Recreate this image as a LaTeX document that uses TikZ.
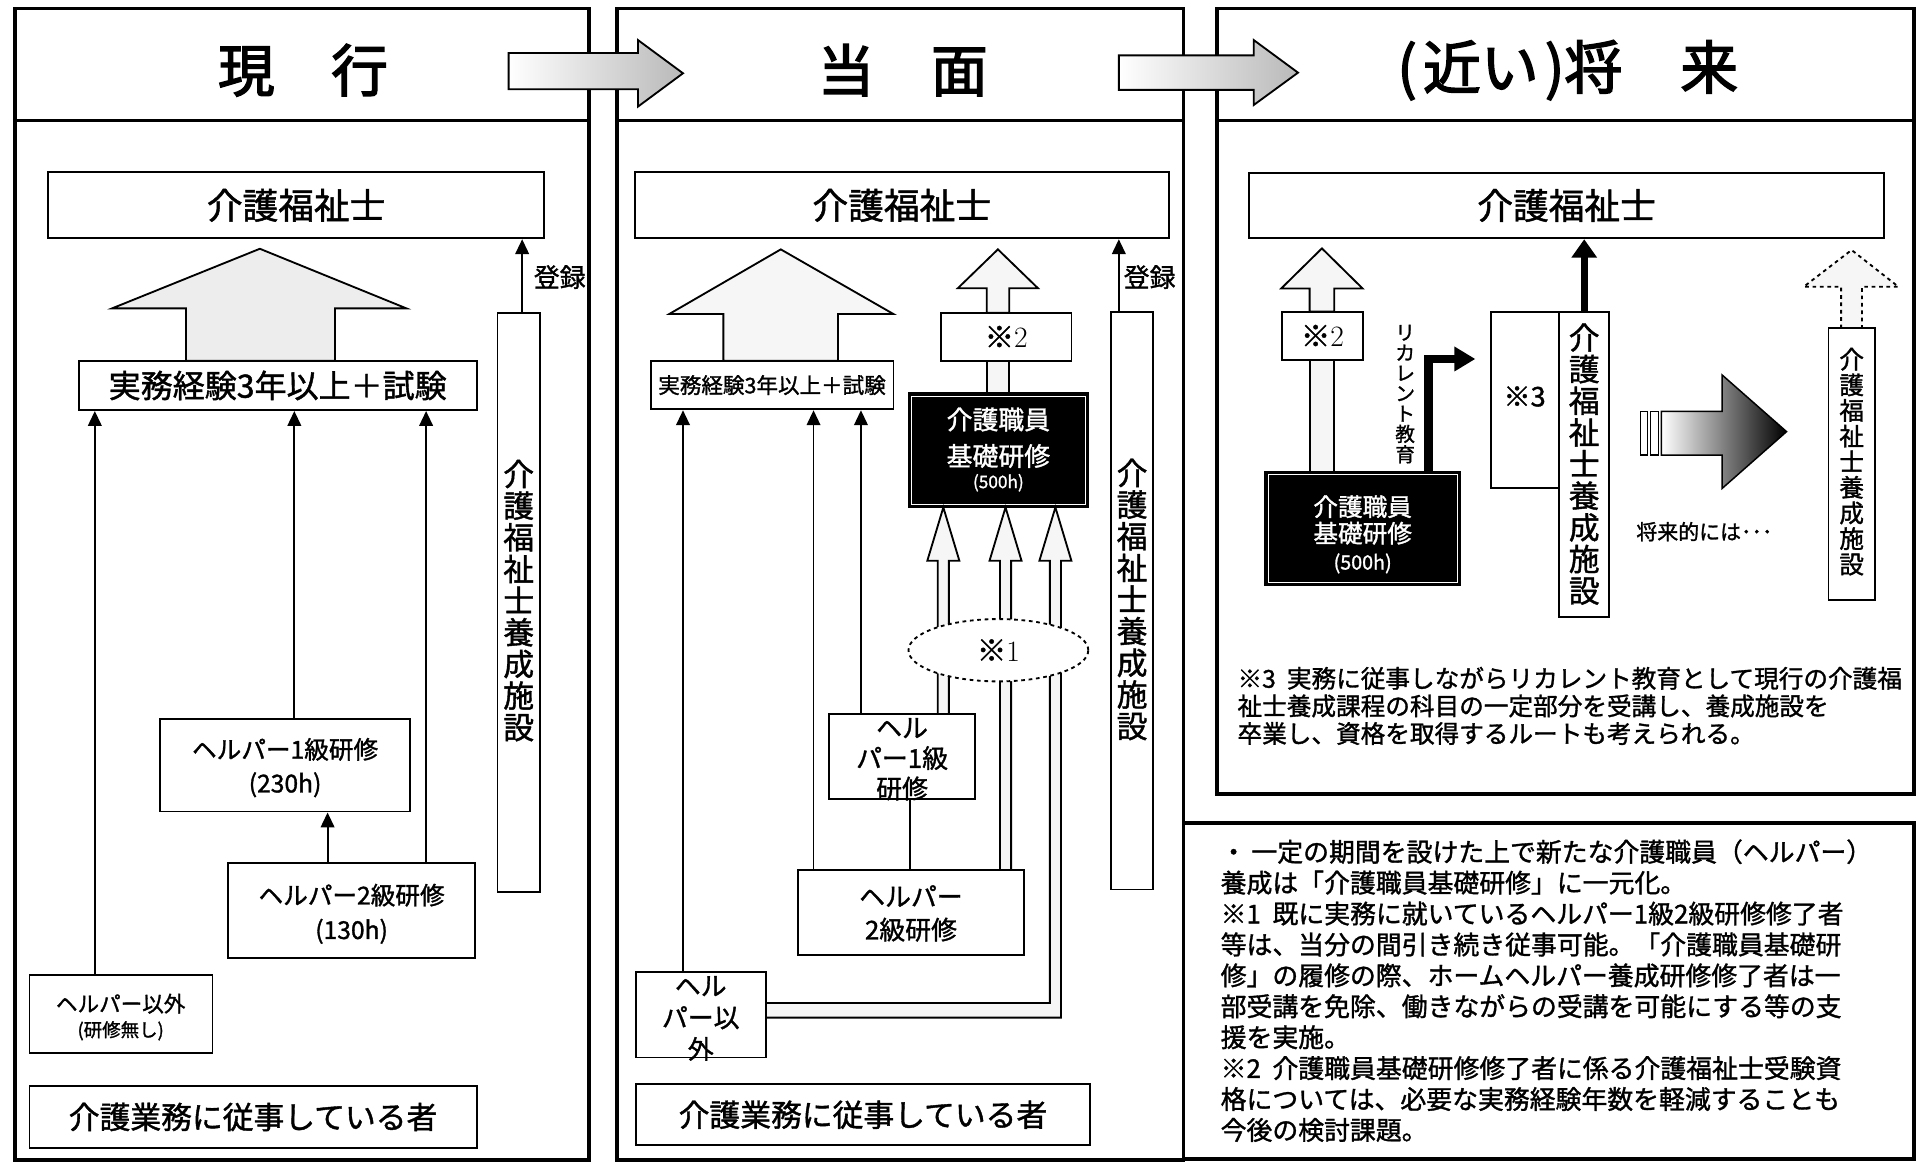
\documentclass[tikz,border=0pt]{standalone}
\usepackage{fontspec}
\newfontfamily\jp{Noto Sans CJK JP}[FakeBold=1.3]
\newfontfamily\jpt{Noto Sans CJK JP}[FakeBold=2.5]
\usetikzlibrary{arrows.meta,fit,shapes.geometric}
\newcommand{\fsz}[2]{\fontsize{#1}{#2}\selectfont}
\begin{document}
\begin{tikzpicture}[x=1pt,y=-1pt,
  panel/.style={draw,line width=3pt,inner sep=0pt},
  box/.style={draw,line width=1.5pt,inner sep=0pt,fill=white},
  blkbox/.style={draw,line width=1.5pt,inner sep=0pt,fill=black},
  txt/.style={inner sep=0pt,align=center,font=\jp},
  conn/.style={line width=1.5pt,-{Triangle[length=12pt,width=11pt]}},
  ln/.style={line width=1.5pt},
  barrow/.style={draw,line width=1.5pt,fill=gray!14,line join=miter},
  barrowl/.style={draw,line width=1.5pt,fill=gray!7,line join=miter},
  hdarrow/.style={draw,line width=1.5pt,left color=white,right color=gray!55,line join=miter},
  boldarrow/.style={line width=6pt,-{Triangle[length=15pt,width=20pt]}},
]
\useasboundingbox (0,0) rectangle (1568,945);
\fill[white] (0,0) rectangle (1568,945);

% ---------------- panels ----------------
\node[panel,fit={(12,7) (478,942)}] (p1) {};
\node[panel,fit={(501,7) (961,942)}] (p2) {};
\node[panel,fit={(988,7) (1554,645)}] (p3) {};
\node[panel,fit={(961,668) (1554,941)}] (notes) {};
\coordinate (hy) at (0,98);
\draw[line width=2pt] (p1.west |- hy) -- (p1.east |- hy);
\draw[line width=2pt] (p2.west |- hy) -- (p2.east |- hy);
\draw[line width=2pt] (p3.west |- hy) -- (p3.east |- hy);

\node[txt,font=\jpt\fsz{46}{46}] (t1) at (246,57) {現　行};
\node[txt,font=\jpt\fsz{46}{46}] (t2) at (733,57) {当　面};
\node[txt,font=\jpt\fsz{47}{47}] (t3) at (1273,57) {(\hspace{5pt}近い\hspace{5pt})将　来};

% header arrows
\draw[hdarrow] (413,43) -- (518,43) -- (518,32.5) -- (554.6,59.5) -- (518,86.6) -- (518,72.5) -- (413,72.5) -- cycle;
\draw[hdarrow] (908.5,45) -- (1018,45) -- (1018,32.5) -- (1054,59) -- (1018,85.3) -- (1018,73) -- (908.5,73) -- cycle;

% ---------------- panel 1 ----------------
\node[box,fit={(39,140) (442,193.5)}] (kfs1) {};
\node[txt,font=\jp\fsz{29}{29}] (kfs1t) at (kfs1) {介護福祉士};
\draw[barrow] (151,293) -- (151,250.4) -- (91,250.4) -- (211,202) -- (330,250.4) -- (272,250.4) -- (272,293) -- cycle;
\node[box,fit={(64,293) (387,333)}] (jm1) {};
\node[txt,font=\jp\fsz{26}{26}] (jm1t) at (jm1) {実務経験3年以上＋試験};
\node[box,fit={(404,254) (438.4,724)}] (ys1) {};
\node[txt,font=\jp\fsz{25}{25.7}] (ys1t) at (421.2,487.7) {介\\護\\福\\祉\\士\\養\\成\\施\\設};
\coordinate (xr1) at (424,0);
\draw[conn] (ys1.north -| xr1) -- (kfs1.south -| xr1);
\node[txt,font=\jp\fsz{21}{21}] (tr1) at (454.5,225) {登録};
\node[box,fit={(130,584) (333,659)}] (h11) {};
\node[txt,font=\jp\fsz{20}{27.4}] (h11t) at (231.5,623.3) {ヘルパー1級研修\\(230h)};
\node[box,fit={(185,700.5) (386,778)}] (h21) {};
\node[txt,font=\jp\fsz{20}{28}] (h21t) at (285.5,742) {ヘルパー2級研修\\(130h)};
\node[box,fit={(24,791.5) (172.5,855)}] (yg1) {};
\node[txt,font=\jp\fsz{17.5}{17.5}] (yg1t) at (98,815) {ヘルパー以外};
\node[txt,font=\jp\fsz{15}{15}] (yg1u) at (98,837) {(研修無し)};
\node[box,fit={(24,882) (387,932)}] (gm1) {};
\node[txt,font=\jp\fsz{25}{25}] (gm1t) at (gm1) {介護業務に従事している者};
\coordinate (xa) at (77,0);
\coordinate (xb) at (239,0);
\coordinate (xc) at (346,0);
\coordinate (xd) at (266,0);
\draw[conn] (yg1.north -| xa) -- (jm1.south -| xa);
\draw[conn] (h11.north -| xb) -- (jm1.south -| xb);
\draw[conn] (h21.north -| xc) -- (jm1.south -| xc);
\draw[conn] (h21.north -| xd) -- (h11.south -| xd);

% ---------------- panel 2 ----------------
\node[box,fit={(515.5,140) (949,193.5)}] (kfs2) {};
\node[txt,font=\jp\fsz{29}{29}] (kfs2t) at (kfs2) {介護福祉士};
\draw[barrowl] (587.4,293) -- (587.4,255) -- (543.4,255) -- (634,202.5) -- (725.5,255) -- (680.5,255) -- (680.5,293) -- cycle;
\node[box,fit={(528.3,293) (725.5,332.4)}] (jm2) {};
\node[txt,font=\jp\fsz{17.5}{17.5}] (jm2t) at (jm2) {実務経験3年以上＋試験};
\draw[barrowl] (801.2,254) -- (801.2,234) -- (777.8,234) -- (810.3,202.5) -- (842.8,234) -- (819.5,234) -- (819.5,254) -- cycle;
\node[box,fit={(764,254) (870,293)}] (km2) {};
\node[txt,font=\jp\fsz{24}{24}] (km2t) at (km2) {※{\rmfamily 2}};
\draw[barrowl] (801.2,293) rectangle (819.5,319.4);
\node[blkbox,fit={(737.7,319.4) (883.8,411.8)}] (kiso2) {};
\draw[white,line width=0.7pt] ([shift={(3,3)}]kiso2.north west) rectangle ([shift={(-3,-3)}]kiso2.south east);
\node[txt,text=white,font=\jp\fsz{21}{21}] (kiso2a) at (810.7,340.6) {介護職員};
\node[txt,text=white,font=\jp\fsz{21}{21}] (kiso2b) at (810.7,370.3) {基礎研修};
\node[txt,text=white,font=\jp\fsz{14}{14}] (kiso2c) at (810.7,392) {(500h)};
% three hollow arrows
\draw[barrowl] (761.5,580) -- (761.5,455.3) -- (753,455.3) -- (766,412) -- (779,455.3) -- (770.5,455.3) -- (770.5,580) -- cycle;
\draw[barrowl] (812,706.5) -- (812,455.3) -- (803.5,455.3) -- (816.5,412) -- (829.5,455.3) -- (821,455.3) -- (821,706.5) -- cycle;
\draw[barrowl] (852.5,455.3) -- (844,455.3) -- (857,412) -- (870,455.3) -- (861.5,455.3) -- (861.5,826.3) -- (622,826.3) -- (622,814.4) -- (852.5,814.4) -- cycle;
\node[ellipse,draw,dashed,line width=1.5pt,fill=white,minimum width=146pt,minimum height=50.6pt,inner sep=0pt,font=\jp\fsz{24}{24}] (km1) at (810.7,528) {※{\rmfamily 1}};
\node[box,fit={(673.4,580) (791.6,649.1)}] (h12) {};
\node[box,fit={(647.8,706.5) (831.7,775.7)}] (h22) {};
\node[box,fit={(516.1,789.5) (622,858.7)}] (yg2) {};
\node[txt,font=\jp\fsz{21}{24.7}] (h12t) at (732.5,616.5) {ヘル\\パー1級\\研修};
\node[txt,font=\jp\fsz{21}{27}] (h22t) at (739.7,741.7) {ヘルパー\\2級研修};
\node[txt,font=\jp\fsz{21}{25.7}] (yg2t) at (569,827) {ヘル\\パー以\\外};
\node[box,fit={(516.1,880.5) (885.4,929.9)}] (gm2) {};
\node[txt,font=\jp\fsz{25}{25}] (gm2t) at (gm2) {介護業務に従事している者};
\coordinate (xe) at (554.6,0);
\coordinate (xf) at (660.6,0);
\coordinate (xg) at (699.1,0);
\coordinate (xh) at (738.6,0);
\draw[conn] (yg2.north -| xe) -- (jm2.south -| xe);
\draw[conn] (h22.north -| xf) -- (jm2.south -| xf);
\draw[conn] (h12.north -| xg) -- (jm2.south -| xg);
\draw[ln] (h22.north -| xh) -- (h12.south -| xh);
\node[box,fit={(902.4,253) (936.1,722.3)}] (ys2) {};
\node[txt,font=\jp\fsz{25}{25.7}] (ys2t) at (919.3,486.8) {介\\護\\福\\祉\\士\\養\\成\\施\\設};
\coordinate (xr2) at (908.5,0);
\draw[conn] (ys2.north -| xr2) -- (kfs2.south -| xr2);
\node[txt,font=\jp\fsz{21}{21}] (tr2) at (933.5,225) {登録};

% ---------------- panel 3 ----------------
\node[box,fit={(1014.2,140.2) (1530,193.5)}] (kfs3) {};
\node[txt,font=\jp\fsz{29}{29}] (kfs3t) at (kfs3) {介護福祉士};
\draw[barrowl] (1063.4,253) -- (1063.4,234.2) -- (1040.4,234.2) -- (1073.4,201.7) -- (1106.4,234.2) -- (1083.4,234.2) -- (1083.4,253) -- cycle;
\node[box,fit={(1040.7,253) (1106.9,292.4)}] (km3) {};
\node[txt,font=\jp\fsz{24}{24}] (km3t) at (km3) {※{\rmfamily 2}};
\draw[barrowl] (1063.4,292.4) rectangle (1083.4,383);
\node[blkbox,fit={(1027.4,383) (1185.7,475)}] (kiso3) {};
\draw[white,line width=0.7pt] ([shift={(3,3)}]kiso3.north west) rectangle ([shift={(-3,-3)}]kiso3.south east);
\node[txt,text=white,font=\jp\fsz{20}{20}] (kiso3a) at (1106.5,411.4) {介護職員};
\node[txt,text=white,font=\jp\fsz{20}{20}] (kiso3b) at (1106.5,433) {基礎研修};
\node[txt,text=white,font=\jp\fsz{16}{16}] (kiso3c) at (1106.5,457.5) {(500h)};
\node[box,fit={(1211,253) (1266,396.6)}] (k3) {};
\node[txt,font=\jp\fsz{22}{22}] (k3t) at (1238,322) {※3};
\node[box,fit={(1266,253) (1306.8,500.8)}] (ys3) {};
\node[txt,font=\jp\fsz{25}{25.7}] (ys3t) at (1286.4,376.8) {介\\護\\福\\祉\\士\\養\\成\\施\\設};
\draw[boldarrow] (ys3.north) -- (ys3.north |- kfs3.south);
\coordinate (xrc) at (1160,0);
\coordinate (rctip) at (1198,291.5);
\draw[line width=7pt,line join=miter,-{Triangle[length=17pt,width=19pt]}] (kiso3.north -| xrc) |- (rctip);
\node[txt,font=\jp\fsz{16}{16.5}] (rct) at (1141,320) {リ\\カ\\レ\\ン\\ト\\教\\育};
% future arrow
\draw[line width=1pt,fill=white] (1332.2,334) rectangle (1337.5,369.5);
\draw[line width=1pt,fill=white] (1340.5,334) rectangle (1347,369.5);
\draw[line width=1.2pt,left color=white,right color=black,line join=miter] (1349,334) -- (1398.4,334) -- (1398.4,304.5) -- (1450.7,350.5) -- (1398.4,396.6) -- (1398.4,369.5) -- (1349,369.5) -- cycle;
\node[txt,font=\jp\fsz{17}{17}] (srt) at (1384,431.7) {将来的には･･･};
\draw[line width=1.5pt,dashed,fill=gray!7] (1495,266.6) -- (1495,232.8) -- (1464.7,232.8) -- (1503.5,203) -- (1541.5,232.8) -- (1512,232.8) -- (1512,266.6) -- cycle;
\node[box,fit={(1484.7,266.6) (1522.6,487.2)}] (ys4) {};
\node[txt,font=\jp\fsz{20}{20.8}] (ys4t) at (1503.6,374.9) {介\\護\\福\\祉\\士\\養\\成\\施\\設};
% note 3
\foreach \t [count=\i from 0] in {{※3\hspace{0.45em}実務に従事しながらリカレント教育として現行の介護福},{祉士養成課程の科目の一定部分を受講し、養成施設を},{卒業し、資格を取得するルートも考えられる。}}
  \node[txt,anchor=base west,font=\jp\fsz{20}{20}] (nt3\i) at (1004.7,{558.4+22.4*\i}) {\t};

% ---------------- notes ----------------
\foreach \t [count=\i from 0] in {
 {・\hspace{4pt}一定の期間を設けた上で新たな介護職員（ヘルパー）},
 {養成は「介護職員基礎研修」に一元化。},
 {※1\hspace{0.45em}既に実務に就いているヘルパー1級2級研修修了者},
 {等は、当分の間引き続き従事可能。「介護職員基礎研},
 {修」の履修の際、ホームヘルパー養成研修修了者は一},
 {部受講を免除、働きながらの受講を可能にする等の支},
 {援を実施。},
 {※2\hspace{0.45em}介護職員基礎研修修了者に係る介護福祉士受験資},
 {格については、必要な実務経験年数を軽減することも},
 {今後の検討課題。}}
  \node[txt,anchor=base west,font=\jp\fsz{21}{21}] (nt\i) at (991,{699.6+25.1*\i}) {\t};
\end{tikzpicture}
\end{document}
